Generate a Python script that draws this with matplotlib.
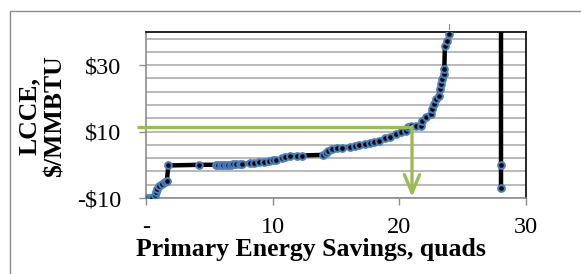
import matplotlib
matplotlib.use("Agg")
import matplotlib.pyplot as plt
from matplotlib.patches import Rectangle

# ---- data ----
savings = [0.1, 0.3, 0.5, 0.71, 0.79, 0.9, 1.05, 1.26, 1.5, 1.64, 1.77, 4.2,
           5.5, 5.7, 5.9, 6.1, 6.3, 6.5, 6.7, 6.9, 7.1, 7.4, 7.6, 8.2, 8.5,
           8.9, 9.3, 9.7, 10.0, 10.3, 10.7, 11.0, 11.4, 11.9, 12.3, 14.0,
           14.2, 14.4, 14.7, 15.1, 15.5, 16.1, 16.5, 16.8, 17.3, 17.7, 18.0,
           18.4, 18.9, 19.3, 19.7, 20.1, 20.5, 20.7, 20.9, 21.3, 21.7, 21.8,
           22.1, 22.5, 22.6, 22.7, 22.9, 23.1, 23.2, 23.25, 23.4, 23.5,
           23.55, 23.6, 23.8, 23.9]
lcce = [-10, -10, -10, -9.2, -8.2, -7.4, -6.5, -5.7, -5.2, -4.9, -0.2, 0,
        0, 0, 0, 0, 0, 0, 0, 0.1, 0.1, 0.1, 0.1, 0.5, 0.6,
        0.7, 0.9, 1.1, 1.3, 1.5, 1.9, 2.3, 2.7, 2.8, 2.8, 3.0,
        3.6, 4.2, 4.8, 5.0, 5.1, 5.3, 5.6, 6.0, 6.3, 6.6, 6.9,
        7.3, 8.0, 8.5, 9.3, 9.8, 10.3, 11.3, 11.6, 11.6, 11.6, 13.3,
        14.3, 15.3, 16.8, 18.3, 19.8, 20.8, 22.9, 24.4, 25.9, 27.4,
        28.9, 35.9, 37.2, 39.5]

total_x = [28.0, 28.0, 28.0]
total_y = [-7.0, 0.0, 45.0]
total_marked = 2

target_lcce = 11.5
target_savings = 21.0
green_start_x = -0.7
arrow_tip_y = -9.7

dash_x = 23.9
dash_y = [40.9, 42.5]

xticks = [0, 10, 20, 30]
xticklabels = ["-", "10", "20", "30"]
yticks = [-10, 10, 30]
yticklabels = ["-$10", "$10", "$30"]
ygrid = [-10, -6, -2, 2, 6, 10, 14, 18, 22, 26, 30, 34, 38]

# ---- figure ----
plt.rcParams['font.family'] = ['Liberation Serif', 'DejaVu Serif']
W, H = 581, 274
fig = plt.figure(figsize=(W / 100, H / 100), dpi=100)
fig.patches.append(Rectangle((10 / W, -0.1), 1.2, 1 - 11 / H + 0.1,
                             transform=fig.transFigure, fill=False,
                             edgecolor='#8c8c8c', lw=1.0))

ax = fig.add_axes([146 / W, 1 - 198 / H, 380 / W, 166 / H])
ax.set_xlim(0, 30)
ax.set_ylim(-10, 40)

for g in ygrid:
    ax.axhline(g, color='#adadad', lw=1.2, zorder=0)

blue = '#4a7ebb'
ax.plot(savings, lcce, color='black', lw=3.2, zorder=3,
        marker='o', ms=4.8, mfc='black', mec=blue, mew=1.5)
ax.plot(total_x, total_y, color='black', lw=3.2, zorder=3)
ax.plot(total_x[:total_marked], total_y[:total_marked], ls='none', zorder=4,
        marker='o', ms=4.8, mfc='black', mec=blue, mew=1.5)

green = '#9bbb59'
ax.plot([green_start_x, target_savings], [target_lcce, target_lcce],
        color=green, lw=2.4, clip_on=False, zorder=5, solid_capstyle='butt')
ax.annotate('', xy=(target_savings, arrow_tip_y),
            xytext=(target_savings, target_lcce),
            arrowprops=dict(arrowstyle='->,head_length=1.3,head_width=0.55',
                            color=green, lw=2.4, shrinkA=0, shrinkB=0),
            zorder=5)

ax.plot([dash_x, dash_x], dash_y, color='#8c8c8c', lw=0.8, clip_on=False)

ax.set_xticks(xticks)
ax.set_xticklabels(xticklabels)
ax.set_yticks(yticks)
ax.set_yticklabels(yticklabels)
ax.tick_params(axis='both', direction='out', length=5, width=1,
               color='#8c8c8c', labelsize=17.5)
ax.tick_params(axis='y', pad=13)
ax.tick_params(axis='x', pad=9)

for s in ['top', 'right']:
    ax.spines[s].set_color('black')
    ax.spines[s].set_linewidth(1.2)
for s in ['left', 'bottom']:
    ax.spines[s].set_color('#8c8c8c')
    ax.spines[s].set_linewidth(1.2)

fig.text(311 / W, 1 - 256 / H, 'Primary Energy Savings, quads',
         ha='center', va='baseline', fontsize=18.5, fontweight='bold')
fig.text(42 / W, 1 - 116 / H, 'LCCE,\n$/MMBTU', rotation=90,
         ha='center', va='center', fontsize=18.5, fontweight='bold',
         linespacing=1.15, multialignment='center')

fig.savefig('out.png', dpi=100)
